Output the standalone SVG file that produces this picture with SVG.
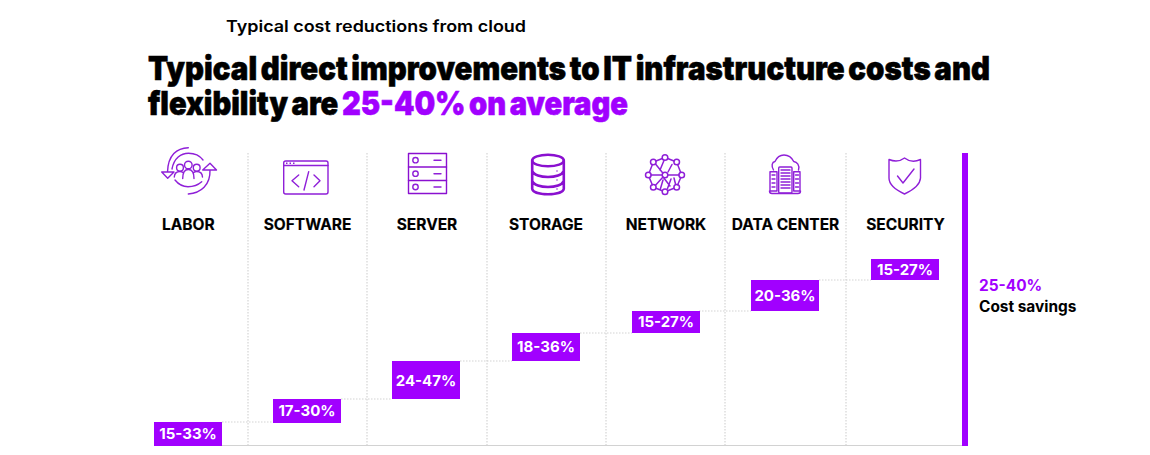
<svg xmlns="http://www.w3.org/2000/svg" width="1150" height="455" viewBox="0 0 1150 455">
<style>
text{font-family:Inter,"Liberation Sans",sans-serif;fill:#000}
.sub{font-size:16px;font-weight:600}
.title{font-size:33px;font-weight:900;word-spacing:-2.500px;stroke:#000;stroke-width:.6px}
.title .p{stroke:#a100ff}
.p{fill:#a100ff}
.col{font-size:15.5px;font-weight:700;text-anchor:middle;stroke:#000;stroke-width:.15px}
.val{font-size:15px;font-weight:700;fill:#fff;text-anchor:middle}
.side{font-size:15.400px;font-weight:700}
.box{fill:#a100ff}
.grid{stroke:#d4d4d4;stroke-width:1.2;stroke-dasharray:1.5 1.5;fill:none}
.ic{fill:none;stroke:#8f1fd8;stroke-width:1.4;stroke-linecap:round;stroke-linejoin:round}
.ic2{fill:none;stroke:#8a10d0;stroke-width:2.6;stroke-linecap:round;stroke-linejoin:round}
</style>
<rect width="1150" height="455" fill="#fff"/>
<text class="sub" x="226" y="31.500" textLength="300" lengthAdjust="spacingAndGlyphs">Typical cost reductions from cloud</text>
<text class="title" x="148" y="80" textLength="842" lengthAdjust="spacingAndGlyphs">Typical direct improvements to IT infrastructure costs and</text>
<text class="title" x="148" y="115" textLength="480" lengthAdjust="spacingAndGlyphs">flexibility are <tspan class="p">25-40% on average</tspan></text>
<g id="connectors">
<path class="grid" d="M248 153V445M367 153V445M487 153V445M606 153V445M725 153V445M846 153V445"/>
<path class="grid" d="M222 422H273M341 399H392M460 361H512M580 333H632M699 311H751M819 280H871"/>
<path d="M154 445.500H962" stroke="#d2d2d2" stroke-width="1.200" fill="none"/>
</g>
<g id="labor">
<path class="ic" d="M188.300 147.700C177 148 168 155 167.500 172M161.700 172L167.700 178.300L174 172Z"/>
<path class="ic" d="M188.300 194C201 193 210.500 185 210 170M202.700 170L210 163.300L216.500 170Z"/>
<path class="ic" d="M172 169C174 158 181 153.300 188.500 153.300C195 153.300 200 156 203 160M175 180C179 185 184 186.700 188 186.700C194 186.700 198 185 201.700 181.700"/>
<circle class="ic" cx="180" cy="167.700" r="3.400"/><circle class="ic" cx="188.300" cy="165" r="3.800"/><circle class="ic" cx="196.700" cy="167.700" r="3.400"/>
<path class="ic" d="M174.300 177C174.500 173 177 171.500 180 171.500C181 171.500 182 171.700 183 172.500M202.500 177C202.300 173 200 171.500 196.700 171.500C195.700 171.500 194.700 171.700 193.700 172.500M182.700 178.500C182.700 172 185 169.500 188.300 169.500C191.700 169.500 194 172 194 178.500"/>
<text class="col" x="188.300" y="230">LABOR</text>
</g>
<g id="software">
<rect class="ic" x="283.700" y="161" width="44.300" height="33" rx="2"/>
<path class="ic" d="M283.700 165.500H328"/>
<path d="M286 163.300H287.500M289.500 163.300H291M293 163.300H294.500" stroke="#8f1fd8" stroke-width="1.600" fill="none"/>
<path class="ic" d="M298.700 175L292 180.700L298.700 186.700M314 175L320 180.700L314 186.700M308.700 171.700L304 190"/>
<text class="col" x="307.500" y="230">SOFTWARE</text>
</g>
<g id="server">
<rect class="ic" x="408.500" y="153.500" width="38" height="40" style="stroke:#8a10d0"/>
<path class="ic" d="M408.500 167H446.500M408.500 180.500H446.500" style="stroke:#8a10d0"/>
<circle class="ic" cx="415.500" cy="160.200" r="2.700"/><circle class="ic" cx="415.500" cy="173.700" r="2.700"/><circle class="ic" cx="415.500" cy="187" r="2.700"/>
<path class="ic" d="M434 160.200H441M434 173.700H441M434 187H441"/>
<text class="col" x="427" y="230">SERVER</text>
</g>
<g id="storage">
<ellipse class="ic2" cx="548" cy="160.500" rx="15.800" ry="5.800"/>
<path class="ic2" d="M532.200 160.500V189C534 196 562 196 563.800 189V160.500M532.200 171C535 179 561 179 563.800 171M532.200 181C535 189 561 189 563.800 181"/>
<path d="M557 170.500V171.500M557 179.500V180.500M557 188.500V189.500" stroke="#8a10d0" stroke-width="1.500"/>
<text class="col" x="546" y="230">STORAGE</text>
</g>
<g id="network">
<g class="ic" style="stroke-width:1.500">
<circle cx="665" cy="157.500" r="2.800"/><circle cx="653.300" cy="162" r="2.800"/><circle cx="676.700" cy="162" r="2.800"/><circle cx="648.300" cy="175" r="2.800"/><circle cx="665" cy="175" r="2.800"/><circle cx="681.700" cy="175" r="2.800"/><circle cx="653.300" cy="187.300" r="2.800"/><circle cx="676.700" cy="187.300" r="2.800"/><circle cx="665" cy="191.700" r="2.800"/>
<path d="M656 161L662.300 158.500M667.700 158.500L674 161M652.300 164.700L649.300 172.400M677.700 164.700L680.700 172.400M649.300 177.600L652.300 184.700M680.700 177.600L677.700 184.700M656 188.300L662.300 190.700M667.700 190.700L674 188.300M655.500 164L662.800 173M667.800 175H679M651.100 175H662.200M655.500 185.300L663 177M663.500 177.500L670 186M664 160.500L660 170M672 164.500L668 172M663 180L660.500 188.500M671 179L667.500 188.500M674 178L675.500 184"/>
</g>
<text class="col" x="666" y="230">NETWORK</text>
</g>
<g id="data-center">
<path class="ic" d="M773.500 170C771 166 772 162 775 161.500C777 157 780 155 784 155C789 155 792 158 793.700 161.500C797 162 800 165 798.500 170"/>
<rect class="ic" x="778.700" y="167" width="13.300" height="26" rx="1"/>
<path class="ic" d="M777 171.700H770V191H777V171.700M793.700 171.700H800V191H793.700V171.700M769.500 191C769.500 193 770 193.500 772 193.500H798C800 193.500 800.500 193 800.500 191"/>
<path class="ic" d="M781 170H790M781 173H790M781 176H790M781 179H790M781 182H790M781 185H790M781 188H790M772 175H775M772 179H775M772 183H775M772 187H775M795.500 175H798.500M795.500 179H798.500M795.500 183H798.500M795.500 187H798.500"/>
<text class="col" x="785.500" y="230">DATA CENTER</text>
</g>
<g id="security">
<path class="ic" d="M889 159.500C895 162 900 161.500 904.500 158C909 161.500 915 162 920.500 159.500V178C920 186 911 191 904.500 194C898 191 889 186 889 178Z"/>
<path class="ic" d="M897.500 176L903 183L914 169"/>
<text class="col" x="905.500" y="230">SECURITY</text>
</g>
<g id="v1"><rect class="box" x="154" y="422" width="68" height="24"/><text class="val" x="188" y="439">15-33%</text></g>
<g id="v2"><rect class="box" x="273" y="399" width="68" height="24"/><text class="val" x="307" y="416">17-30%</text></g>
<g id="v3"><rect class="box" x="392" y="361" width="68" height="38"/><text class="val" x="426" y="386">24-47%</text></g>
<g id="v4"><rect class="box" x="512" y="333" width="68" height="28"/><text class="val" x="546" y="352">18-36%</text></g>
<g id="v5"><rect class="box" x="632" y="311" width="68" height="22"/><text class="val" x="666" y="327">15-27%</text></g>
<g id="v6"><rect class="box" x="751" y="280" width="68" height="31"/><text class="val" x="785" y="301">20-36%</text></g>
<g id="v7"><rect class="box" x="871" y="259" width="68" height="21"/><text class="val" x="905" y="275">15-27%</text></g>
<g id="total">
<rect class="box" x="962" y="153" width="6" height="293"/>
<text class="side p" x="979" y="291">25-40%</text>
<text class="side" x="979" y="312">Cost savings</text>
</g>
</svg>
